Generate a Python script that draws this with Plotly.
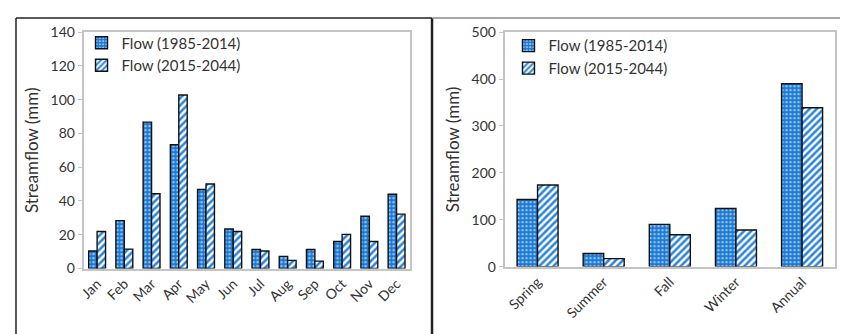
import plotly.graph_objects as go

months = ["Jan", "Feb", "Mar", "Apr", "May", "Jun", "Jul", "Aug", "Sep", "Oct", "Nov", "Dec"]
flow_hist_month = [10.4, 28.4, 86.7, 73.3, 46.8, 23.4, 11.3, 7.2, 11.3, 16.0, 31.0, 44.0]
flow_fut_month = [21.9, 11.5, 44.3, 102.8, 50.1, 21.9, 10.4, 4.8, 4.4, 20.2, 16.0, 32.2]

seasons = ["Spring", "Summer", "Fall", "Winter", "Annual"]
flow_hist_season = [143, 28, 90, 124, 390]
flow_fut_season = [174, 17, 68, 78, 339]

name_hist = "Flow (1985-2014)"
name_fut = "Flow (2015-2044)"

W, H = 848, 334
OFF = 8  # page body margin offset
FONT = "Lato, 'Open Sans', sans-serif"
TXT = "#333333"


def px(x):
    return (x - OFF) / W


def py(y):
    return 1 - (y - OFF) / H


pat_hist = dict(shape=".", bgcolor="#1b74d2", fgcolor="#8cc8f5", size=4, solidity=0.35, fillmode="replace")
pat_fut = dict(shape="/", bgcolor="#ffffff", fgcolor="#2a84de", size=5, solidity=0.5, fillmode="replace")
line = dict(color="#111111", width=1.4)

fig = go.Figure()
fig.add_trace(go.Bar(x=months, y=flow_hist_month, name=name_hist, xaxis="x", yaxis="y",
                     marker=dict(color="#1b74d2", pattern=pat_hist, line=line), legend="legend"))
fig.add_trace(go.Bar(x=months, y=flow_fut_month, name=name_fut, xaxis="x", yaxis="y",
                     marker=dict(color="#2a84de", pattern=pat_fut, line=line), legend="legend"))
fig.add_trace(go.Bar(x=seasons, y=flow_hist_season, name=name_hist, xaxis="x2", yaxis="y2",
                     marker=dict(color="#1b74d2", pattern=pat_hist, line=line), legend="legend2"))
fig.add_trace(go.Bar(x=seasons, y=flow_fut_season, name=name_fut, xaxis="x2", yaxis="y2",
                     marker=dict(color="#2a84de", pattern=pat_fut, line=line), legend="legend2"))

axis_common = dict(showline=True, linecolor="#c4c4c4", linewidth=1.5, mirror=True,
                   showgrid=False, zeroline=False, tickfont=dict(family=FONT, size=14, color=TXT))

fig.update_layout(
    width=W, height=H,
    margin=dict(l=0, r=0, t=0, b=0),
    paper_bgcolor="white", plot_bgcolor="white",
    barmode="group", bargap=0.38, bargroupgap=0.0,
    font=dict(family=FONT, color=TXT),
    xaxis=dict(domain=[px(78), px(407)], anchor="y", tickangle=-45, ticks="", **axis_common),
    yaxis=dict(domain=[py(273), py(24)], anchor="x", range=[0, 140], dtick=20,
               ticks="outside", ticklen=4, tickcolor="#c4c4c4",
               title=dict(text="Streamflow (mm)", font=dict(family=FONT, size=17, color=TXT), standoff=8),
               **axis_common),
    xaxis2=dict(domain=[px(502), px(835)], anchor="y2", tickangle=-45, ticks="", **axis_common),
    yaxis2=dict(domain=[py(271), py(24)], anchor="x2", range=[0, 500], dtick=100,
                ticks="outside", ticklen=4, tickcolor="#c4c4c4",
                title=dict(text="Streamflow (mm)", font=dict(family=FONT, size=17, color=TXT), standoff=8),
                **axis_common),
    legend=dict(x=px(76), y=py(18), xanchor="left", yanchor="top", bgcolor="rgba(0,0,0,0)",
                font=dict(family=FONT, size=15, color=TXT), itemwidth=30, tracegroupgap=0),
    legend2=dict(x=px(506), y=py(21), xanchor="left", yanchor="top", bgcolor="rgba(0,0,0,0)",
                 font=dict(family=FONT, size=15, color=TXT), itemwidth=30, tracegroupgap=0),
    showlegend=True,
)

# panel frames
fig.add_shape(type="line", xref="paper", yref="paper", x0=px(10), x1=px(10), y0=-0.05, y1=py(9),
              line=dict(color="#222222", width=1.5))
fig.add_shape(type="line", xref="paper", yref="paper", x0=px(10), x1=px(429), y0=py(9), y1=py(9),
              line=dict(color="#222222", width=1.5))
fig.add_shape(type="line", xref="paper", yref="paper", x0=px(429), x1=px(429), y0=-0.05, y1=py(9),
              line=dict(color="#222222", width=2.5))
fig.add_shape(type="line", xref="paper", yref="paper", x0=px(429), x1=1.01, y0=py(9), y1=py(9),
              line=dict(color="#8a8a8a", width=1.5))

fig.write_html("out.html")
